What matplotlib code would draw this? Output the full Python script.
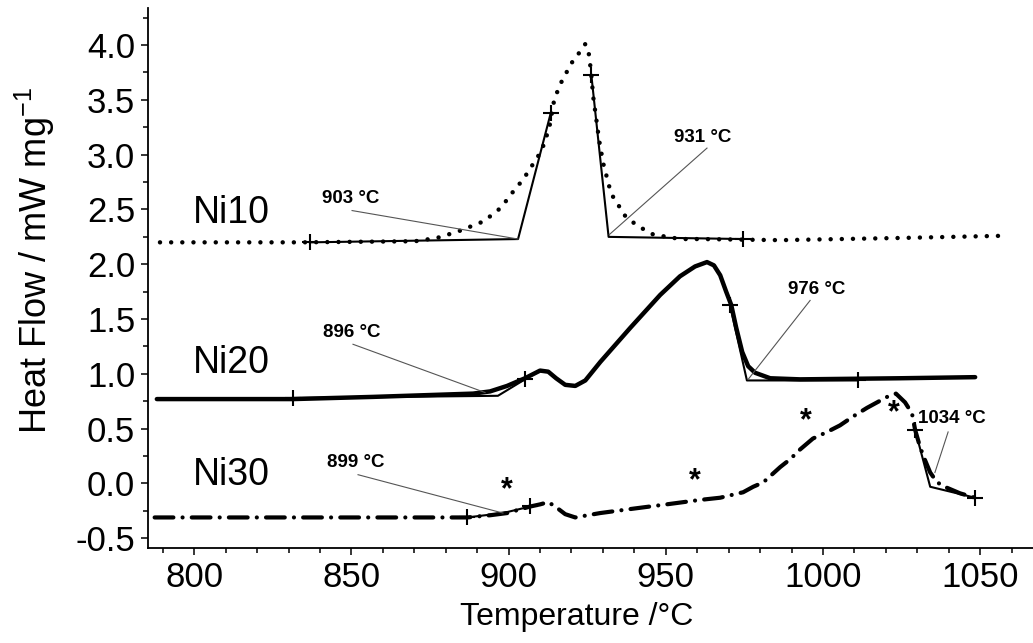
import numpy as np
import matplotlib.pyplot as plt
from matplotlib.ticker import MultipleLocator

plt.rcParams['font.family'] = ['Liberation Sans', 'DejaVu Sans']
plt.rcParams['mathtext.default'] = 'regular'
plt.rcParams['axes.unicode_minus'] = False

# %% Daten

# Ni10 (gepunktet)
T_ni10 = [789.1, 833.6, 870.2, 877.2, 884.0, 891.9, 894.7, 897.3, 899.8, 902.4,
          904.6, 906.5, 909.1, 911.0, 912.9, 914.5, 916.1, 917.4, 919.0, 920.9,
          922.5, 924.4, 925.6, 926.3, 926.9, 927.9, 928.8, 930.1, 931.1, 932.0,
          933.3, 934.9, 937.1, 939.7, 942.9, 946.1, 950.5, 954.6, 961.0, 986.4,
          1024.6, 1057.5]
HF_ni10 = [2.20, 2.20, 2.21, 2.24, 2.30, 2.39, 2.45, 2.51, 2.60, 2.70,
           2.77, 2.86, 2.97, 3.08, 3.24, 3.50, 3.62, 3.70, 3.78, 3.88,
           3.93, 4.01, 3.91, 3.73, 3.53, 3.32, 3.13, 2.92, 2.81, 2.71,
           2.61, 2.54, 2.44, 2.38, 2.32, 2.27, 2.25, 2.23, 2.23, 2.22,
           2.24, 2.26]

# Ni20 (durchgezogen)
T_ni20 = [788.1, 831.4, 856.9, 878.2, 888.7, 894.1, 899.5, 905.2, 910.0, 912.6,
          915.1, 918.0, 921.2, 924.4, 929.2, 938.7, 948.2, 954.5, 959.3, 963.1,
          965.3, 967.3, 969.2, 970.8, 972.4, 974.3, 976.2, 978.4, 983.2, 992.7,
          1024.5, 1048.4]
HF_ni20 = [0.77, 0.77, 0.79, 0.81, 0.82, 0.84, 0.89, 0.96, 1.03, 1.02,
           0.96, 0.90, 0.89, 0.94, 1.11, 1.42, 1.72, 1.89, 1.98, 2.02,
           1.99, 1.90, 1.75, 1.63, 1.42, 1.20, 1.07, 1.01, 0.96, 0.95,
           0.96, 0.97]

# Ni30 (Strich-Punkt)
T_ni30 = [787.4, 872.7, 886.8, 894.1, 899.5, 906.9, 910.1, 912.6, 914.8, 918.0,
          921.2, 929.1, 939.6, 950.4, 960.9, 967.3, 974.6, 977.8, 981.0, 986.4,
          989.5, 992.7, 996.8, 1001.3, 1005.4, 1009.5, 1014.0, 1017.2, 1020.4, 1023.2,
          1026.1, 1028.3, 1029.3, 1030.9, 1032.5, 1034.1, 1036.3, 1039.5, 1043.6, 1048.4]
HF_ni30 = [-0.31, -0.31, -0.31, -0.29, -0.27, -0.21, -0.19, -0.17, -0.21, -0.28,
           -0.31, -0.27, -0.23, -0.19, -0.15, -0.13, -0.08, -0.03, 0.01, 0.15,
           0.22, 0.31, 0.41, 0.47, 0.53, 0.61, 0.69, 0.74, 0.79, 0.82,
           0.74, 0.64, 0.49, 0.33, 0.21, 0.10, 0.01, -0.04, -0.09, -0.13]

# Tangentenkonstruktion (Onset), je drei Punkte
constr = [
    ([836.8, 903.0, 913.4], [2.20, 2.23, 3.38]),
    ([926.3, 931.8, 974.7], [3.73, 2.25, 2.23]),
    ([831.4, 896.6, 905.2], [0.78, 0.80, 0.95]),
    ([970.4, 975.8, 1011.1], [1.63, 0.94, 0.94]),
    ([886.8, 898.2, 906.9], [-0.31, -0.27, -0.21]),
    ([1029.3, 1034.1, 1048.4], [0.49, -0.03, -0.13]),
]

# Onset-Beschriftungen: Text, Textposition, Linie (von, bis)
onset_txt = ["903 °C", "931 °C", "896 °C", "976 °C", "899 °C", "1034 °C"]
onset_pos = [(849.9, 2.60), (961.8, 3.16), (850.2, 1.38), (998.1, 1.77),
             (851.5, 0.19), (1041.0, 0.59)]
onset_line = [((850.2, 2.49), (903.0, 2.23)), ((963.1, 3.06), (932.0, 2.27)),
              ((850.5, 1.27), (892.5, 0.83)), ((995.9, 1.67), (976.2, 0.95)),
              ((852.1, 0.08), (898.2, -0.27)), ((1039.8, 0.47), (1035.6, 0.10))]

# Sternchen bei Ni30
star_T = [899.5, 959.3, 994.6, 1022.6]
star_HF = [-0.06, 0.02, 0.57, 0.64]

names = ["Ni10", "Ni20", "Ni30"]
name_pos = [(811.7, 2.47), (811.7, 1.10), (811.7, 0.08)]

# %% Plot
fig = plt.figure(figsize=(10.33, 6.43), dpi=100)
ax = fig.add_axes([0.143, 0.1477, 0.857, 0.84])

ax.plot(T_ni10, HF_ni10, color="black", lw=3.2, linestyle=(0, (0.01, 2.5)),
        dash_capstyle="round")
ax.plot(T_ni20, HF_ni20, color="black", lw=3.2, solid_capstyle="round")
ax.plot(T_ni30, HF_ni30, color="black", lw=3, linestyle=(0, (4.5, 2.2, 0.01, 2.2)),
        dash_capstyle="round")

for xs, ys in constr:
    ax.plot(xs, ys, color="black", lw=1.5, marker="+", markersize=12,
            markeredgewidth=1.5, markevery=[0, 2])

for txt, (tx, ty), ((x0, y0), (x1, y1)) in zip(onset_txt, onset_pos, onset_line):
    ax.plot([x0, x1], [y0, y1], color="#555555", lw=0.8)
    ax.text(tx, ty, txt, fontsize=13.5, fontweight="bold", ha="center", va="center")

for sx, sy in zip(star_T, star_HF):
    ax.text(sx, sy, "*", fontsize=22, fontweight="bold", ha="center", va="center")

for name, (nx, ny) in zip(names, name_pos):
    ax.text(nx, ny, name, fontsize=27, ha="center", va="center")

ax.set_xlim(785.2, 1066.8)
ax.set_ylim(-0.589, 4.339)
ax.xaxis.set_major_locator(MultipleLocator(50))
ax.xaxis.set_minor_locator(MultipleLocator(10))
ax.yaxis.set_major_locator(MultipleLocator(0.5))
ax.yaxis.set_minor_locator(MultipleLocator(0.25))
ax.yaxis.set_major_formatter(plt.FormatStrFormatter("%.1f"))
ax.tick_params(which="major", direction="out", length=5, width=1.1, labelsize=25, pad=4)
ax.tick_params(which="minor", direction="out", length=3.5, width=1.1)
ax.spines["top"].set_visible(False)
ax.spines["right"].set_visible(False)
for s in ["left", "bottom"]:
    ax.spines[s].set_linewidth(1.3)

ax.set_xlabel("Temperature /°C", fontsize=23)
ax.set_ylabel("Heat Flow / mW mg$^{-1}$", fontsize=26)
ax.xaxis.set_label_coords(0.484, -0.10)
ax.yaxis.set_label_coords(-0.128, 0.533)
ax.yaxis.label.set_va("center")

plt.savefig("out.png", dpi=100)
